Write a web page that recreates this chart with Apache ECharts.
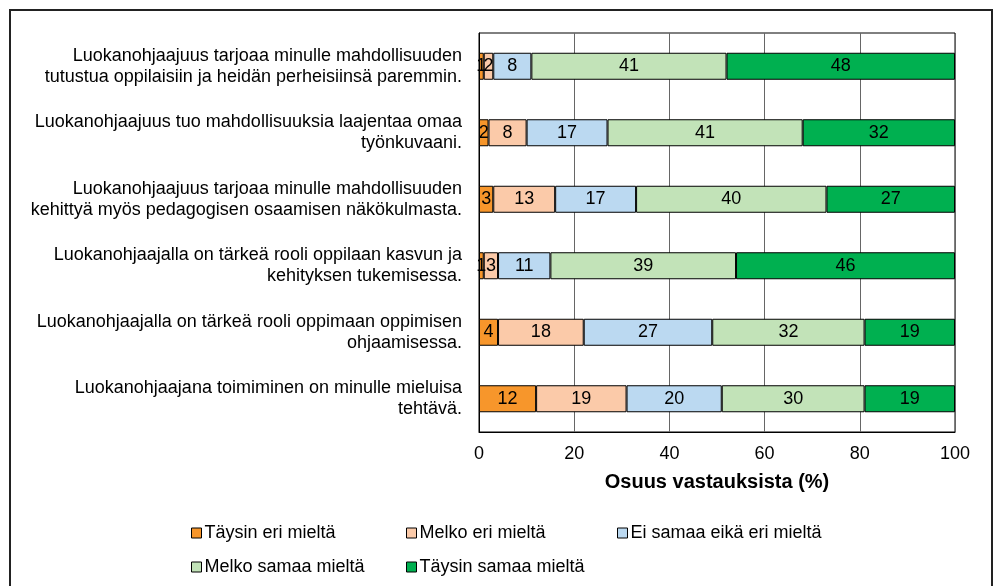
<!DOCTYPE html>
<html>
<head>
<meta charset="utf-8">
<script src="https://cdn.jsdelivr.net/npm/echarts@6/dist/echarts.min.js"></script>
<style>
html,body{margin:0;padding:0;background:#fff;}
#chart{width:997px;height:586px;}
</style>
</head>
<body>
<div id="chart"></div>
<script>
const categories = [
  "Luokanohjaajuus tarjoaa minulle mahdollisuuden\ntutustua oppilaisiin ja heidän perheisiinsä paremmin.",
  "Luokanohjaajuus tuo mahdollisuuksia laajentaa omaa\ntyönkuvaani.",
  "Luokanohjaajuus tarjoaa minulle mahdollisuuden\nkehittyä myös pedagogisen osaamisen näkökulmasta.",
  "Luokanohjaajalla on tärkeä rooli oppilaan kasvun ja\nkehityksen tukemisessa.",
  "Luokanohjaajalla on tärkeä rooli oppimaan oppimisen\nohjaamisessa.",
  "Luokanohjaajana toimiminen on minulle mieluisa\ntehtävä."
];
const seriesNames = ["Täysin eri mieltä","Melko eri mieltä","Ei samaa eikä eri mieltä","Melko samaa mieltä","Täysin samaa mieltä"];
const taysinEri   = [1, 2, 3, 1, 4, 12];
const melkoEri    = [2, 8, 13, 3, 18, 19];
const eiSamaa     = [8, 17, 17, 11, 27, 20];
const melkoSamaa  = [41, 41, 40, 39, 32, 30];
const taysinSamaa = [48, 32, 27, 46, 19, 19];
const xTicks = [0, 20, 40, 60, 80, 100];
const xName = "Osuus vastauksista (%)";

const colors = ["#F7962B", "#FBCAA9", "#BBD9F1", "#C2E3B8", "#00B050"];
const values = [taysinEri, melkoEri, eiSamaa, melkoSamaa, taysinSamaa];
const font = "Liberation Sans, Arial, sans-serif";

const chart = echarts.init(document.getElementById('chart'));
const series = seriesNames.map((n, i) => ({
  name: n,
  type: 'bar',
  stack: 'total',
  data: values[i],
  barWidth: 27,
  itemStyle: { color: colors[i], borderColor: '#000', borderWidth: 1 },
  label: { show: true, position: 'inside', color: '#000', fontSize: 18, fontFamily: font },
  emphasis: { disabled: true }
}));

const legendPos = [[186, 519], [401, 519], [612, 519], [186, 553], [401, 553]];
const legends = seriesNames.map((n, i) => ({
  data: [n],
  left: legendPos[i][0],
  top: legendPos[i][1],
  orient: 'horizontal',
  itemWidth: 10,
  itemHeight: 10,
  itemGap: 4,
  icon: 'rect',
  selectedMode: false,
  textStyle: { fontSize: 18, fontFamily: font, color: '#000', padding: [0,0,0,-2] },
  itemStyle: { borderColor: '#000', borderWidth: 1 }
}));

chart.setOption({
  animation: false,
  color: colors,
  graphic: [{
    type: 'rect',
    shape: { x: 10, y: 10, width: 982, height: 600 },
    style: { fill: 'none', stroke: '#222', lineWidth: 2 },
    silent: true
  }],
  legend: legends,
  grid: { left: 479, right: 42, top: 33, bottom: 154, show: true, borderColor: '#000', borderWidth: 1, containLabel: false },
  xAxis: {
    type: 'value',
    min: xTicks[0],
    max: xTicks[xTicks.length - 1],
    interval: 20,
    name: xName,
    nameLocation: 'middle',
    nameGap: 40,
    nameTextStyle: { fontSize: 20, fontWeight: 'bold', fontFamily: font, color: '#000' },
    axisLine: { show: true, lineStyle: { color: '#000' } },
    axisTick: { show: false },
    axisLabel: { fontSize: 18, fontFamily: font, color: '#000', margin: 13 },
    splitLine: { show: true, lineStyle: { color: '#666', width: 1 } }
  },
  yAxis: {
    type: 'category',
    inverse: true,
    data: categories,
    axisLine: { show: true, lineStyle: { color: '#000' } },
    axisTick: { show: false },
    axisLabel: { fontSize: 18, fontFamily: font, color: '#000', lineHeight: 21, align: 'right', margin: 17 }
  },
  series: series
});
</script>
</body>
</html>
